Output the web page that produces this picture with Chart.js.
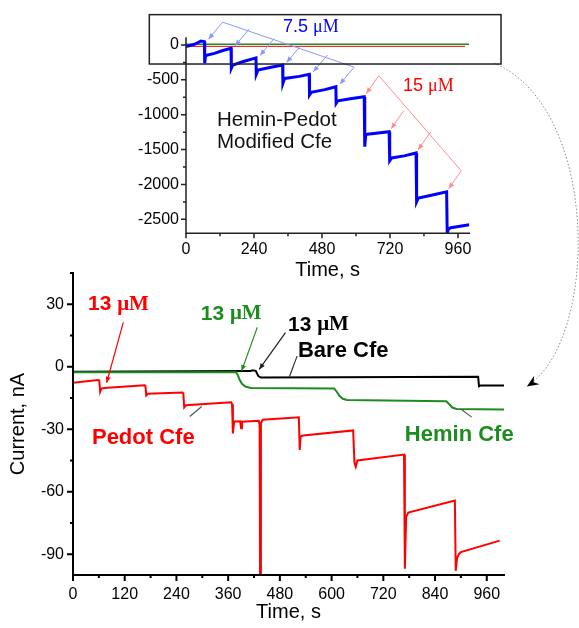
<!DOCTYPE html>
<html><head><meta charset="utf-8">
<script src="https://cdn.jsdelivr.net/npm/chart.js@4.4.0/dist/chart.umd.min.js"></script>
<style>
html,body{margin:0;padding:0;background:#fff;}
#wrap{position:relative;width:579px;height:628px;}
canvas{position:absolute;left:0;top:0;}
</style></head><body>
<div id="wrap"><canvas id="main" width="579" height="628"></canvas><canvas id="inset" width="579" height="628"></canvas></div>
<script>
// ---------- main chart data (time in s, current in nA) ----------
const pedotTime    = [0, 58, 61, 63, 66, 72, 166, 168, 170, 174, 254, 256, 258, 262, 367, 369, 371, 374, 388, 390, 392, 431, 433, 434, 436, 440, 524, 526, 528, 534, 650, 653, 656, 660, 768, 770, 773, 778, 886, 888, 891, 895, 900, 990];
const pedotCurrent = [-7.7, -6.4, -6.6, -12, -10.5, -10.2, -8.9, -9.2, -13.8, -13, -12.4, -12.8, -19.5, -18.5, -17.1, -18, -32, -26.3, -26.2, -29.5, -26.4, -26, -28, -100, -27, -25.5, -24.3, -40, -33.5, -33, -30.6, -46, -48, -45, -42.2, -97, -72, -70, -64.3, -98, -92, -90, -89, -83.5];
const heminTime    = [0, 378, 382, 386, 392, 400, 412, 606, 612, 618, 626, 636, 866, 872, 880, 890, 1000];
const heminCurrent = [-2.6, -2.6, -3.8, -6, -8.2, -9.5, -10.2, -10.5, -12, -14, -15.4, -16, -16.6, -17.8, -19.6, -20.3, -20.5];
const bareTime     = [0, 412, 416, 424, 430, 436, 940, 942, 946, 1000];
const bareCurrent  = [-2.4, -2.1, -1.7, -2, -4.5, -5.2, -4.8, -9.4, -9, -9];

// ---------- inset data ----------
const blueTime    = [0, 30, 53, 65, 66, 69, 100, 130, 159, 160, 165, 200, 247, 248, 254, 300, 341, 342, 348, 400, 435, 436, 442, 490, 529, 530, 536, 580, 629, 631, 634, 640, 717, 719, 726, 770, 812, 814, 820, 870, 920, 922, 926, 935, 1000];
const blueCurrent = [-24, 10, 57, 48, -263, -150, -120, -80, -48, -335, -290, -240, -185, -421, -360, -320, -287, -550, -480, -450, -421, -717, -680, -640, -598, -837, -800, -770, -741, -1459, -1291, -1280, -1244, -1660, -1620, -1590, -1548, -2248, -2195, -2150, -2105, -2700, -2640, -2620, -2578];
const insetGreenTime = [0, 1000];
const insetGreenCurrent = [10, 10];
const insetRedTime = [0, 985];
const insetRedCurrent = [-20, -20];
const blueFanTimes = [65, 159, 247, 341, 435, 529];
const redFanTimes  = [629, 717, 812, 920];

// tick labels
const mainXTickValues  = [0, 120, 240, 360, 480, 600, 720, 840, 960];
const mainYTickValues  = [-90, -60, -30, 0, 30];
const insetXTickValues = [0, 240, 480, 720, 960];
const insetYTickValues = [-2500, -2000, -1500, -1000, -500, 0];
const mainXTicks = {step: 120, minor: 60};
const mainYTicks = {step: 30, minor: 15};
const insetXTicks = {step: 240, minor: 120};
const insetYTicks = {step: 500, minor: 250};

const SANS = '"Liberation Sans", Arial, sans-serif';
const SERIF = '"Liberation Serif", "Times New Roman", serif';
const RED = '#ff0000', GREEN = '#1e8c1e', BLUE = '#0000ff';

function pts(t, v) { return t.map((x, i) => ({x: x, y: v[i]})); }
function setTicks(values) { return function (s) { s.ticks = values.map(v => ({value: v})); }; }

function drawAxes(ctx, a, xs, ys, xt, yt, color, width, L, l) {
  ctx.save();
  ctx.strokeStyle = color; ctx.lineWidth = width; ctx.lineCap = 'square';
  ctx.beginPath();
  ctx.moveTo(a.left, a.top); ctx.lineTo(a.left, a.bottom); ctx.lineTo(a.right, a.bottom);
  ctx.stroke();
  ctx.lineCap = 'butt';
  ctx.beginPath();
  for (let v = Math.ceil(xs.min / xt.minor) * xt.minor; v <= xs.max; v += xt.minor) {
    const p = xs.getPixelForValue(v);
    const len = (Math.abs(v % xt.step) < 1e-6) ? L : l;
    ctx.moveTo(p, a.bottom); ctx.lineTo(p, a.bottom + len);
  }
  for (let v = Math.ceil(ys.min / yt.minor) * yt.minor; v <= ys.max; v += yt.minor) {
    const p = ys.getPixelForValue(v);
    const len = (Math.abs(v % yt.step) < 1e-6) ? L : l;
    ctx.moveTo(a.left, p); ctx.lineTo(a.left - len, p);
  }
  ctx.stroke();
  ctx.restore();
}

function arrow(ctx, x1, y1, x2, y2, color, head, lw) {
  ctx.save();
  ctx.strokeStyle = color; ctx.fillStyle = color; ctx.lineWidth = lw || 1;
  ctx.beginPath(); ctx.moveTo(x1, y1); ctx.lineTo(x2, y2); ctx.stroke();
  if (head) {
    const ang = Math.atan2(y2 - y1, x2 - x1), Lh = 6, W = 2.5;
    ctx.beginPath();
    ctx.moveTo(x2, y2);
    ctx.lineTo(x2 - Lh * Math.cos(ang) + W * Math.sin(ang), y2 - Lh * Math.sin(ang) - W * Math.cos(ang));
    ctx.lineTo(x2 - Lh * Math.cos(ang) - W * Math.sin(ang), y2 - Lh * Math.sin(ang) + W * Math.cos(ang));
    ctx.closePath(); ctx.fill();
  }
  ctx.restore();
}

function muText(ctx, x, y, num, size, bold, color) {
  ctx.save();
  ctx.fillStyle = color; ctx.textBaseline = 'middle'; ctx.textAlign = 'left';
  ctx.font = (bold ? 'bold ' : '') + size + 'px ' + SANS;
  const s = num + ' ';
  ctx.fillText(s, x, y);
  const w = ctx.measureText(s).width;
  ctx.font = (bold ? 'bold ' : '') + size + 'px ' + SERIF;
  ctx.fillText('\u03bcM', x + w, y);
  ctx.restore();
}

function label(ctx, x, y, text, size, bold, color) {
  ctx.save();
  ctx.fillStyle = color; ctx.textBaseline = 'middle'; ctx.textAlign = 'left';
  ctx.font = (bold ? 'bold ' : '') + size + 'px ' + SANS;
  ctx.fillText(text, x, y);
  ctx.restore();
}

// ---------- annotations (in data units of each chart) ----------
const mainArrows = [
  {from: [116.7, 21.3], to: [78, -7.7], color: RED, head: true},
  {from: [427.6, 18.9], to: [391, -2.1], color: GREEN, head: true},
  {from: [493, 16.4], to: [432, -1.3], color: '#222', head: true},
  {from: [520, 5.1], to: [502, -4.8], color: '#333', head: false},
  {from: [271, -23.9], to: [298.6, -19.1], color: '#555', head: false},
  {from: [925, -24.2], to: [902, -20.7], color: '#555', head: false}
];
const mainMuLabels = [
  {at: [34.8, 29.9], num: '13', color: RED},
  {at: [296.3, 25.3], num: '13', color: GREEN},
  {at: [498.8, 20], num: '13', color: '#000'}
];
const mainTextLabels = [
  {at: [522, 7.6], text: 'Bare Cfe', color: '#000'},
  {at: [44, -34], text: 'Pedot Cfe', color: RED},
  {at: [770, -32.8], text: 'Hemin Cfe', color: GREEN}
];
const curvePath = {start: [976.8, 145.8], c1: [1222.7, 124.5], c2: [1222.7, 13.2], end: [1053, -9.5]};

const mainDeco = {
  id: 'mainDeco',
  afterDraw(chart) {
    const {ctx, chartArea: a, scales: {x, y}} = chart;
    const P = (p) => [x.getPixelForValue(p[0]), y.getPixelForValue(p[1])];
    drawAxes(ctx, a, x, y, mainXTicks, mainYTicks, '#000', 2, 6, 3);
    mainArrows.forEach(r => { const f = P(r.from), t = P(r.to); arrow(ctx, f[0], f[1], t[0], t[1], r.color, r.head, 1.2); });
    mainMuLabels.forEach(m => { const p = P(m.at); muText(ctx, p[0], p[1], m.num, 21, true, m.color); });
    mainTextLabels.forEach(m => { const p = P(m.at); label(ctx, p[0], p[1], m.text, 22, true, m.color); });
    // curved dotted arrow from inset to main chart
    const s = P(curvePath.start), c1 = P(curvePath.c1), c2 = P(curvePath.c2), e = P(curvePath.end);
    ctx.save();
    ctx.strokeStyle = '#8a8a8a'; ctx.lineWidth = 1; ctx.setLineDash([1.5, 2]);
    ctx.beginPath(); ctx.moveTo(s[0], s[1]); ctx.bezierCurveTo(c1[0], c1[1], c2[0], c2[1], e[0], e[1]); ctx.stroke();
    ctx.setLineDash([]);
    const ang = Math.atan2(e[1] - c2[1], e[0] - c2[0]);
    ctx.fillStyle = '#000';
    ctx.translate(e[0], e[1]); ctx.rotate(ang);
    ctx.beginPath(); ctx.moveTo(0, 0); ctx.lineTo(-12, -5); ctx.lineTo(-8, 0); ctx.lineTo(-12, 5); ctx.closePath(); ctx.fill();
    ctx.restore();
  }
};

const insetTextLabels = [
  {at: [109.4, -1083], text: 'Hemin-Pedot'},
  {at: [109.4, -1395], text: 'Modified Cfe'}
];
const insetMu = [
  {at: [342.4, 258], num: '7.5', color: BLUE},
  {at: [766, -588], num: '15', color: RED}
];
const insetBox = {t0: -129.5, t1: 1112, v0: 435, v1: -273};

function fan(ctx, x, y, times, dx, dy, color, tipOff) {
  const tips = times.map(t => {
    const i = blueTime.indexOf(t);
    return [x.getPixelForValue(t) + tipOff[0], y.getPixelForValue(blueCurrent[i]) + tipOff[1]];
  });
  const first = [tips[0][0] + dx, tips[0][1] + dy];
  const last = [tips[tips.length - 1][0] + dx, tips[tips.length - 1][1] + dy];
  ctx.save();
  ctx.strokeStyle = color; ctx.lineWidth = 1;
  ctx.beginPath(); ctx.moveTo(first[0], first[1]); ctx.lineTo(last[0], last[1]); ctx.stroke();
  ctx.restore();
  tips.forEach(tp => arrow(ctx, tp[0] + dx, tp[1] + dy, tp[0], tp[1], color, true, 1));
}

const insetDeco = {
  id: 'insetDeco',
  afterDraw(chart) {
    const {ctx, chartArea: a, scales: {x, y}} = chart;
    const P = (p) => [x.getPixelForValue(p[0]), y.getPixelForValue(p[1])];
    drawAxes(ctx, a, x, y, insetXTicks, insetYTicks, '#222', 1.5, 5, 3);
    fan(ctx, x, y, blueFanTimes, 14.3, -17, '#8c96ff', [4, -2.5]);
    fan(ctx, x, y, redFanTimes, 12.6, -18, '#ff8c8c', [2, -3]);
    insetMu.forEach(m => { const p = P(m.at); muText(ctx, p[0], p[1], m.num, 18, false, m.color); });
    insetTextLabels.forEach(m => { const p = P(m.at); label(ctx, p[0], p[1], m.text, 20.5, false, '#111'); });
    const b0 = P([insetBox.t0, insetBox.v0]), b1 = P([insetBox.t1, insetBox.v1]);
    ctx.save();
    ctx.strokeStyle = '#222'; ctx.lineWidth = 1.5;
    ctx.strokeRect(b0[0], b0[1], b1[0] - b0[0], b1[1] - b0[1]);
    ctx.restore();
  }
};

const common = {
  responsive: false, animation: false, events: [],
  elements: {point: {radius: 0}, line: {tension: 0}},
  plugins: {legend: {display: false}, tooltip: {enabled: false}}
};
const tickFmt = v => String(v);

new Chart(document.getElementById('main'), {
  type: 'line',
  data: {datasets: [
    {data: pts(pedotTime, pedotCurrent), borderColor: RED, borderWidth: 2},
    {data: pts(heminTime, heminCurrent), borderColor: GREEN, borderWidth: 2},
    {data: pts(bareTime, bareCurrent), borderColor: '#000', borderWidth: 2}
  ]},
  options: Object.assign({}, common, {
    layout: {padding: {left: 0, top: 273, right: 75, bottom: 0}},
    scales: {
      x: {type: 'linear', min: 0, max: 1000, afterBuildTicks: setTicks(mainXTickValues),
        ticks: {callback: tickFmt, padding: 10, color: '#000', maxRotation: 0, autoSkip: false, font: {family: SANS, size: 16}},
        grid: {display: false, drawTicks: false}, border: {display: false},
        title: {display: true, text: 'Time, s', color: '#000', font: {family: SANS, size: 20}, padding: {top: 0, bottom: 4}},
        afterFit(s) { s.height = 53; }},
      y: {type: 'linear', min: -100, max: 45, afterBuildTicks: setTicks(mainYTickValues),
        ticks: {callback: tickFmt, padding: 9, color: '#000', font: {family: SANS, size: 16}},
        grid: {display: false, drawTicks: false}, border: {display: false},
        title: {display: true, text: 'Current, nA', color: '#000', font: {family: SANS, size: 20}, padding: {top: 6, bottom: 0}},
        afterFit(s) { s.width = 73; }}
    }
  }),
  plugins: [mainDeco]
});

new Chart(document.getElementById('inset'), {
  type: 'line',
  data: {datasets: [
    {data: pts(blueTime, blueCurrent), borderColor: BLUE, borderWidth: 3},
    {data: pts(insetGreenTime, insetGreenCurrent), borderColor: GREEN, borderWidth: 1.5},
    {data: pts(insetRedTime, insetRedCurrent), borderColor: RED, borderWidth: 1}
  ]},
  options: Object.assign({}, common, {
    layout: {padding: {left: 120, top: 38, right: 109.7, bottom: 344.7}},
    scales: {
      x: {type: 'linear', min: 0, max: 1000, afterBuildTicks: setTicks(insetXTickValues),
        ticks: {callback: tickFmt, padding: 7, color: '#000', maxRotation: 0, autoSkip: false, font: {family: SANS, size: 16}},
        grid: {display: false, drawTicks: false}, border: {display: false},
        title: {display: true, text: 'Time, s', color: '#000', font: {family: SANS, size: 20}, padding: {top: 0, bottom: 1}},
        afterFit(s) { s.height = 50; }},
      y: {type: 'linear', min: -2700, max: 100, afterBuildTicks: setTicks(insetYTickValues),
        ticks: {callback: tickFmt, padding: 7, color: '#000', font: {family: SANS, size: 16}},
        grid: {display: false, drawTicks: false}, border: {display: false},
        afterFit(s) { s.width = 66; }}
    }
  }),
  plugins: [insetDeco]
});
</script>
</body></html>
